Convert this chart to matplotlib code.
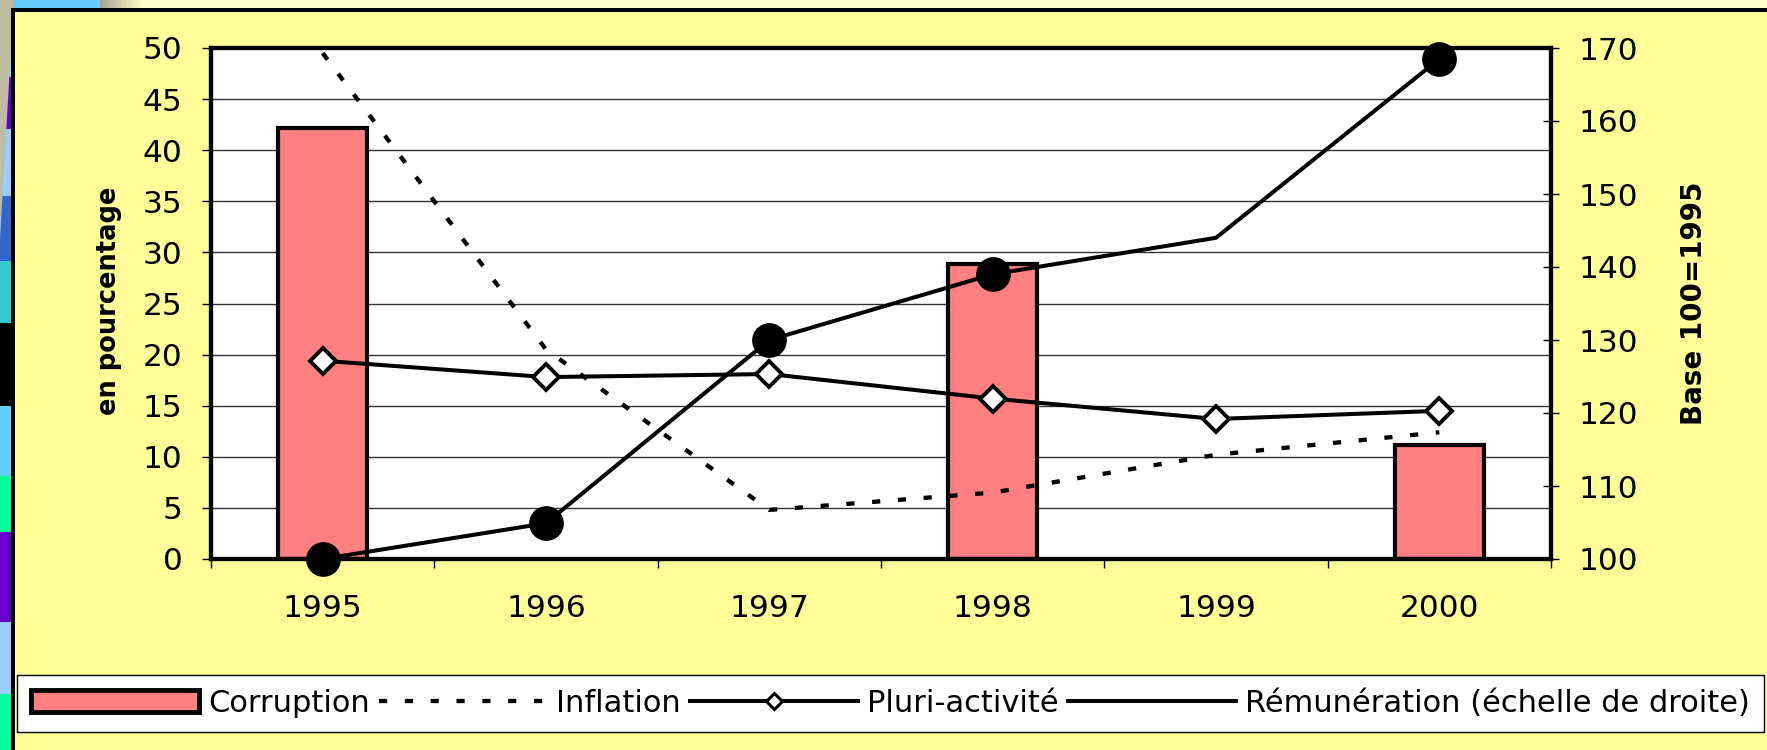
import numpy as np
import matplotlib
matplotlib.use("Agg")
import matplotlib.pyplot as plt
from matplotlib.patches import Rectangle, Polygon, Patch
from matplotlib.lines import Line2D
from matplotlib.colors import to_rgb

# ---------------- data ----------------
years = ["1995", "1996", "1997", "1998", "1999", "2000"]
corruption = [42.2, None, None, 28.9, None, 11.2]
inflation = [49.5, 20.5, 4.8, 6.5, 10.2, 12.4]
pluri = [19.4, 17.8, 18.1, 15.7, 13.7, 14.5]
remuneration = [100, 104.9, 130, 139, 144, 168.5]
rem_marker_idx = [0, 1, 2, 3, 5]
left_ticks = list(range(0, 51, 5))
right_ticks = list(range(100, 171, 10))
legend_labels = ["Corruption", "Inflation", "Pluri-activité",
                 "Rémunération (échelle de droite)"]

W, H = 1767, 750
fig = plt.figure(figsize=(W / 100, H / 100), dpi=100, facecolor="#FFFFCC")
plt.rcParams["font.family"] = ["DejaVu Sans"]


def prect(x0, y0, x1, y1, color, z=-10):
    fig.add_artist(Rectangle((x0 / W, 1 - y1 / H), (x1 - x0) / W, (y1 - y0) / H,
                             transform=fig.transFigure, facecolor=color,
                             edgecolor="none", lw=0, zorder=z))


# ------------- slide background pieces -------------
stripes = [(0, 77, "#99CCFF"), (77, 129, "#6600CC"), (129, 196, "#99CCFF"),
           (196, 261, "#3366CC"), (261, 323, "#33CCCC"), (323, 406, "#000000"),
           (406, 476, "#66CCFF"), (476, 532, "#00FF99"), (532, 622, "#6600CC"),
           (622, 694, "#99CCFF"), (694, 750, "#00FF99")]
for y0, y1, c in stripes:
    prect(0, y0, 12, y1, c, z=-12)
fig.add_artist(Polygon([(0, 1), (12 / W, 1), (12 / W, 1 - 30 / H), (0, 1 - 240 / H)],
                       closed=True, transform=fig.transFigure,
                       facecolor="#BFBDA0", edgecolor="none", zorder=-11))
prect(0, 0, 14, 9, "#BFBDA0", z=-11)
prect(14, 0, 100, 9, "#66CCFF", z=-11)
c0 = np.array(to_rgb("#A8A690"))
c1 = np.array(to_rgb("#FFFFCC"))
nstep = 15
for i in range(nstep):
    t = i / (nstep - 1)
    prect(100 + i * 3, 0, 100 + (i + 1) * 3, 9, tuple(c0 * (1 - t) + c1 * t), z=-11)

# chart area (yellow) and black border
prect(12, 9, W, H, "#FFFF99", z=-10)
prect(11, 8, 15, H, "#000000", z=-9)
prect(11, 8, W, 12, "#000000", z=-9)

# ---------------- axes ----------------
LW = 2.9
x = np.arange(len(years))
ax = fig.add_axes([211 / W, 1 - 559 / H, (1551 - 211) / W, (559 - 48) / H])
ax.set_facecolor("white")
ax.set_xlim(-0.5, len(years) - 0.5)
ax.set_ylim(0, 50)
ax.set_yticks(left_ticks)
ax.yaxis.grid(True, color="#333333", lw=1.0)
ax.set_axisbelow(True)

bx = [i for i, v in enumerate(corruption) if v is not None]
bh = [v for v in corruption if v is not None]
ax.bar(bx, bh, width=0.4, color="#FF8080", edgecolor="black", linewidth=3, zorder=2)

dash = (0, (1.9, 4.1))
ax.plot(x, inflation, color="black", lw=3.1, linestyle=dash, zorder=3)
ax.plot(x, pluri, color="black", lw=LW, marker="D", markersize=13,
        markerfacecolor="white", markeredgecolor="black", markeredgewidth=2.8,
        zorder=4, clip_on=False)

ax2 = ax.twinx()
ax2.set_ylim(100, 170)
ax2.set_yticks(right_ticks)
ax2.plot(x, remuneration, color="black", lw=LW, marker="o", markersize=24,
         markevery=rem_marker_idx, markerfacecolor="black", markeredgecolor="black",
         zorder=5, clip_on=False)

for a in (ax, ax2):
    for s in a.spines.values():
        s.set_linewidth(3)
        s.set_color("black")

ax.set_xticks(x)
ax.set_xticklabels(years)
ax.set_xticks(np.arange(-0.5, len(years)), minor=True)
ax.tick_params(axis="x", which="major", length=0, pad=25, labelsize=22.5)
ax.tick_params(axis="x", which="minor", length=6.5, width=1, direction="out")
ax.tick_params(axis="y", which="major", length=6.5, width=1, direction="out",
               pad=14, labelsize=22.5)
ax2.tick_params(axis="y", which="major", length=11.5, width=1, direction="inout",
                pad=14, labelsize=22.5)

fig.text(109 / W, 1 - 301 / H, "en pourcentage", rotation=90, ha="center",
         va="center", fontsize=18.5, fontweight="bold")
fig.text(1694 / W, 1 - 303 / H, "Base 100=1995", rotation=90, ha="center",
         va="center", fontsize=20, fontweight="bold")

# ---------------- legend ----------------
handles = [
    Patch(facecolor="#FF8080", edgecolor="black", linewidth=3.5),
    Line2D([], [], color="black", lw=3.1, linestyle=dash),
    Line2D([], [], color="black", lw=LW, marker="D", markersize=8,
           markerfacecolor="white", markeredgecolor="black", markeredgewidth=2.2),
    Line2D([], [], color="black", lw=LW),
]
leg = fig.legend(handles, legend_labels, loc="upper left",
                 bbox_to_anchor=(17 / W, 1 - 675 / H), bbox_transform=fig.transFigure,
                 ncol=4, fontsize=22, frameon=True, fancybox=False, shadow=False,
                 framealpha=1, edgecolor="black", facecolor="white",
                 handlelength=5.5, handletextpad=0.3, columnspacing=0.3,
                 borderpad=0.45, borderaxespad=0)
leg.get_frame().set_linewidth(1.0)

fig.savefig("out.png", dpi=100, facecolor=fig.get_facecolor())
